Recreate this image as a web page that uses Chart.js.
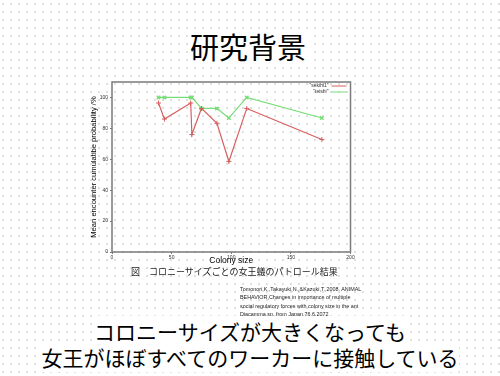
<!DOCTYPE html>
<html>
<head>
<meta charset="utf-8">
<script src="https://cdn.jsdelivr.net/npm/chart.js@4"></script>
<style>
  html, body { margin: 0; padding: 0; }
  body {
    width: 500px; height: 376px; position: relative; overflow: hidden;
    background-color: #fff;
    background-image: radial-gradient(circle, #b4b4b4 0.45px, transparent 0.9px);
    background-size: 8px 8px;
    background-position: -1px 0px;
    font-family: "Noto Sans CJK JP", sans-serif;
  }
  .txt { position: absolute; white-space: nowrap; color: #000; line-height: 1; }
  #title { left: 188px; top: 31px; font-size: 29px; background: #fff; padding: 1px 2px; }
  #caption { left: 131px; top: 267px; font-size: 9px; color: #222; }
  #cite { left: 240px; top: 285px; font-family: "Liberation Sans", sans-serif; font-size: 5.4px; line-height: 8.4px; color: #222; }
  #line1 { left: 0; width: 500px; text-align: center; top: 321px; font-size: 21px; }
  #line2 { left: 0; width: 500px; text-align: center; top: 347px; font-size: 21px; }
  #line1 span, #line2 span { background: #fff; }
  #chartBox { position: absolute; left: 89px; top: 76px; width: 267px; height: 196px; }
</style>
</head>
<body>
<div id="title" class="txt">研究背景</div>
<div id="chartBox"><canvas id="chart" width="267" height="196"></canvas></div>
<div id="caption" class="txt">図　コロニーサイズごとの女王蟻のパトロール結果</div>
<div id="cite" class="txt">Tomonori,K.,Takayuki,N.,&amp;Kazuki,T.,2008. ANIMAL<br>BEHAVIOR,Changes in importance of multiple<br>social regulatory forces with colony size in the ant<br>Diacamma sp. from Japan,76,6,2072</div>
<div id="line1" class="txt"><span>コロニーサイズが大きくなっても</span></div>
<div id="line2" class="txt"><span>女王がほぼすべてのワーカーに接触している</span></div>

<script>
// ---- данные ----
const colonySize = [39, 44, 66, 67, 75, 88, 98, 113, 176];
const sekihiVals = [96.4, 86.0, 96.4, 76.0, 92.9, 83.3, 58.6, 92.9, 72.8];
const teishiVals = [100, 100, 100, 100, 92.9, 92.9, 86.7, 100, 86.7];
const seriesNames = ['"sekihi1"', '"teishi"'];
const xTicks = [0, 50, 100, 150, 200];
const yTicks = [0, 20, 40, 60, 80, 100];

const redCol = 'rgb(214,96,96)';
const greenCol = 'rgb(120,222,120)';

function toPoints(ys) {
  return colonySize.map((x, i) => ({ x: x, y: ys[i] }));
}

// рамка вокруг области графика (как в gnuplot)
const framePlugin = {
  id: 'frame',
  afterDraw(chart) {
    const { ctx, chartArea: a } = chart;
    ctx.save();
    ctx.strokeStyle = '#7a7a7a';
    ctx.lineWidth = 1.5;
    ctx.strokeRect(a.left, a.top, a.right - a.left, a.bottom - a.top);
    ctx.restore();
  }
};

// легенда в правом верхнем углу: текст, потом образец линии
const keyPlugin = {
  id: 'gpKey',
  afterDraw(chart) {
    const { ctx, chartArea: a } = chart;
    ctx.save();
    ctx.font = '5px "Liberation Sans"';
    ctx.textAlign = 'right';
    ctx.textBaseline = 'middle';
    chart.data.datasets.forEach((ds, i) => {
      const y = a.top + 4 + i * 6;
      ctx.fillStyle = '#333';
      ctx.fillText(ds.label, a.right - 22, y);
      ctx.strokeStyle = ds.borderColor;
      ctx.lineWidth = 1;
      ctx.beginPath();
      ctx.moveTo(a.right - 19, y);
      ctx.lineTo(a.right - 4, y);
      ctx.stroke();
    });
    ctx.restore();
  }
};

new Chart(document.getElementById('chart'), {
  type: 'scatter',
  data: {
    datasets: [
      {
        label: seriesNames[0], data: toPoints(sekihiVals), showLine: true,
        borderColor: redCol, backgroundColor: redCol, borderWidth: 1.2,
        pointStyle: 'cross', pointRadius: 2.5, pointBorderWidth: 1
      },
      {
        label: seriesNames[1], data: toPoints(teishiVals), showLine: true,
        borderColor: greenCol, backgroundColor: greenCol, borderWidth: 1.2,
        pointStyle: 'crossRot', pointRadius: 2.5, pointBorderWidth: 1.5
      }
    ]
  },
  options: {
    responsive: false,
    animation: false,
    devicePixelRatio: 1,
    layout: { padding: { top: 6, right: 5, left: 0, bottom: 6 } },
    plugins: { legend: { display: false }, tooltip: { enabled: false } },
    scales: {
      x: {
        type: 'linear', min: 0, max: 200,
        afterBuildTicks: s => { s.ticks = xTicks.map(v => ({ value: v })); },
        afterFit: s => { s.height = 14; },
        ticks: { font: { size: 5, family: 'Liberation Sans' }, color: '#333', padding: 1, maxRotation: 0 },
        grid: { drawOnChartArea: false, tickLength: 2, color: '#7a7a7a' },
        border: { display: false },
        title: { display: true, text: 'Colony size', color: '#000', font: { size: 8.5, family: 'Liberation Sans' }, padding: 0 }
      },
      y: {
        min: 0, max: 110,
        afterBuildTicks: s => { s.ticks = yTicks.map(v => ({ value: v })); },
        afterFit: s => { s.width = 23; },
        ticks: { font: { size: 5, family: 'Liberation Sans' }, color: '#333', padding: 2 },
        grid: { drawOnChartArea: false, tickLength: 2, color: '#7a7a7a' },
        border: { display: false },
        title: { display: true, text: 'Mean encounter cumulatibe probability /%', color: '#000', font: { size: 7.6, family: 'Liberation Sans' }, padding: 0 }
      }
    }
  },
  plugins: [framePlugin, keyPlugin]
});
</script>
</body>
</html>
